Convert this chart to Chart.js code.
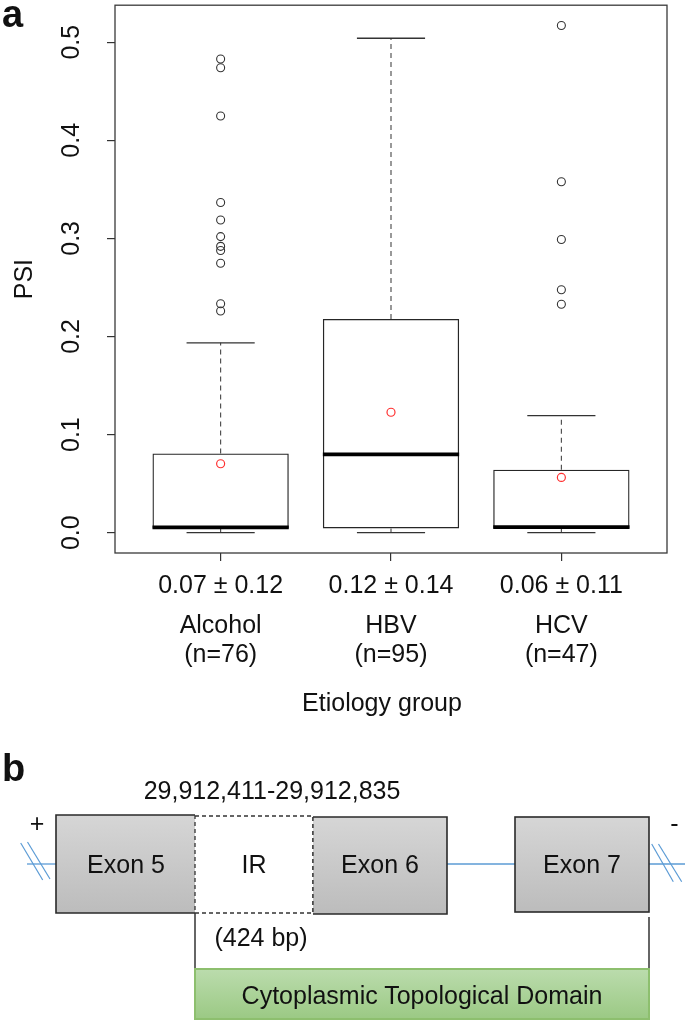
<!DOCTYPE html>
<html>
<head>
<meta charset="utf-8">
<script src="https://cdn.jsdelivr.net/npm/chart.js@4.4.1/dist/chart.umd.min.js"></script>
<style>
  html, body { margin: 0; padding: 0; background: #fff; overflow: hidden; }
  #wrap { position: absolute; left: 0; top: 0; width: 685px; height: 745px; }
  #panelB { position: absolute; left: 0; top: 0; pointer-events: none; }
</style>
</head>
<body>
<div id="wrap"><canvas id="c" width="685" height="745"></canvas></div>
<svg id="panelB" width="685" height="1022" font-family="'Liberation Sans', Arial, sans-serif" fill="#111">
  <defs>
    <linearGradient id="gGray" x1="0" y1="0" x2="0" y2="1">
      <stop offset="0" stop-color="#d6d6d6"/>
      <stop offset="1" stop-color="#bcbcbc"/>
    </linearGradient>
    <linearGradient id="gGreen" x1="0" y1="0" x2="0" y2="1">
      <stop offset="0" stop-color="#bbdcad"/>
      <stop offset="1" stop-color="#9bc984"/>
    </linearGradient>
  </defs>
  <text x="2" y="781" font-size="38" font-weight="bold">b</text>
  <text x="272" y="799" font-size="25" text-anchor="middle">29,912,411-29,912,835</text>
  <text x="37" y="832" font-size="25" text-anchor="middle">+</text>
  <text x="674.5" y="832" font-size="25" text-anchor="middle">-</text>

  <!-- intron lines -->
  <line x1="27" y1="864" x2="56" y2="864" stroke="#5b9bd5" stroke-width="1.3"/>
  <line x1="447" y1="864" x2="515" y2="864" stroke="#5b9bd5" stroke-width="1.3"/>
  <line x1="649" y1="864" x2="685" y2="864" stroke="#5b9bd5" stroke-width="1.3"/>
  <!-- break marks -->
  <line x1="20.7" y1="843" x2="42.7" y2="880" stroke="#5b9bd5" stroke-width="1.2"/>
  <line x1="27.5" y1="842" x2="50" y2="879" stroke="#5b9bd5" stroke-width="1.2"/>
  <line x1="651.7" y1="844" x2="673.3" y2="881.7" stroke="#5b9bd5" stroke-width="1.2"/>
  <line x1="658.5" y1="844" x2="681.7" y2="881.7" stroke="#5b9bd5" stroke-width="1.2"/>

  <!-- Exon 5 -->
  <rect x="56" y="815" width="139" height="98" fill="url(#gGray)"/>
  <polyline points="195,815 56,815 56,913 195,913" fill="none" stroke="#2a2a2a" stroke-width="1.6"/>
  <!-- IR -->
  <rect x="195" y="816" width="118" height="97" fill="#fff" stroke="#333" stroke-width="1.3" stroke-dasharray="4 3"/>
  <!-- Exon 6 -->
  <rect x="313" y="817" width="134" height="97" fill="url(#gGray)"/>
  <polyline points="313,817 447,817 447,914 313,914" fill="none" stroke="#2a2a2a" stroke-width="1.6"/>
  <line x1="313" y1="817" x2="313" y2="914" stroke="#333" stroke-width="1.3" stroke-dasharray="4 3"/>
  <!-- Exon 7 -->
  <rect x="515" y="817" width="134" height="95" fill="url(#gGray)" stroke="#2a2a2a" stroke-width="1.6"/>

  <text x="126" y="873" font-size="25" text-anchor="middle">Exon 5</text>
  <text x="254" y="873" font-size="25" text-anchor="middle">IR</text>
  <text x="380" y="873" font-size="25" text-anchor="middle">Exon 6</text>
  <text x="582" y="873" font-size="25" text-anchor="middle">Exon 7</text>

  <text x="261" y="946" font-size="25" text-anchor="middle">(424 bp)</text>

  <line x1="195" y1="913" x2="195" y2="969" stroke="#333" stroke-width="1.5"/>
  <line x1="649" y1="917" x2="649" y2="969" stroke="#333" stroke-width="1.5"/>

  <rect x="195" y="969" width="454" height="50" fill="url(#gGreen)" stroke="#8dbf6e" stroke-width="2"/>
  <text x="422" y="1004" font-size="25" text-anchor="middle">Cytoplasmic Topological Domain</text>
</svg>

<script>
// ---------------- data ----------------
const groups = ['Alcohol', 'HBV', 'HCV'];
const groupN = ['(n=76)', '(n=95)', '(n=47)'];
const meanSdLabels = ['0.07 \u00b1 0.12', '0.12 \u00b1 0.14', '0.06 \u00b1 0.11'];
const q1 = [0.0044, 0.0044, 0.0044];
const median = [0.0054, 0.0798, 0.0057];
const q3 = [0.0808, 0.2179, 0.0642];
const whiskerLow = [0.0, 0.0, 0.0];
const whiskerHigh = [0.1935, 0.504, 0.1194];
const means = [0.0703, 0.1228, 0.0564];
const outliersAlcohol = [0.4828, 0.474, 0.4247, 0.3366, 0.3187, 0.3018, 0.2919, 0.2876, 0.2747, 0.2334, 0.226];
const outliersHBV = [];
const outliersHCV = [0.517, 0.3577, 0.2988, 0.2476, 0.2328];
const yTicks = [0, 0.1, 0.2, 0.3, 0.4, 0.5];
const xAxisTitle = 'Etiology group';
const yAxisTitle = 'PSI';

// ---------------- derived tables ----------------
const BOX_HALF = 0.4;   // half box width in category units (R default 0.8 width)
const CAP_HALF = 0.2;   // half staple width
const outlierSets = [outliersAlcohol, outliersHBV, outliersHCV];

function segments(list) {
  const pts = [];
  list.forEach(s => { pts.push({x: s[0], y: s[1]}, {x: s[2], y: s[3]}, {x: s[2], y: null}); });
  return pts;
}
const medianSegs = segments(groups.map((g, i) => [i + 1 - BOX_HALF, median[i], i + 1 + BOX_HALF, median[i]]));
const whiskerSegs = segments(groups.flatMap((g, i) => [
  [i + 1, q3[i], i + 1, whiskerHigh[i]],
  [i + 1, q1[i], i + 1, whiskerLow[i]]
]));
const capSegs = segments(groups.flatMap((g, i) => [
  [i + 1 - CAP_HALF, whiskerHigh[i], i + 1 + CAP_HALF, whiskerHigh[i]],
  [i + 1 - CAP_HALF, whiskerLow[i], i + 1 + CAP_HALF, whiskerLow[i]]
]));
const outlierPts = outlierSets.flatMap((arr, i) => arr.map(v => ({x: i + 1, y: v})));
const meanPts = means.map((v, i) => ({x: i + 1, y: v}));

// R-style axis range (4% extension)
const dataMax = Math.max(...whiskerHigh, ...outlierPts.map(p => p.y));
const dataMin = Math.min(...whiskerLow);
const ext = (dataMax - dataMin) * 0.04;
const FONT = "'Liberation Sans', Arial, sans-serif";

const textPlugin = {
  id: 'rtext',
  afterDraw(chart) {
    const ctx = chart.ctx;
    const a = chart.chartArea;
    const xs = chart.scales.x, ys = chart.scales.y;
    ctx.save();
    // frame
    ctx.strokeStyle = '#3a3a3a';
    ctx.lineWidth = 1.3;
    ctx.strokeRect(a.left, a.top, a.right - a.left, a.bottom - a.top);
    ctx.fillStyle = '#111';
    // y tick labels (rotated, parallel to axis)
    ctx.font = '25px ' + FONT;
    ctx.textAlign = 'center';
    ctx.textBaseline = 'alphabetic';
    ys.ticks.forEach(t => {
      const y = ys.getPixelForValue(t.value);
      ctx.save();
      ctx.translate(a.left - 36, y);
      ctx.rotate(-Math.PI / 2);
      ctx.fillText(t.value.toFixed(1), 0, 0);
      ctx.restore();
    });
    // y title
    ctx.save();
    ctx.translate(a.left - 83, (a.top + a.bottom) / 2);
    ctx.rotate(-Math.PI / 2);
    ctx.fillText(yAxisTitle, 0, 0);
    ctx.restore();
    // x labels
    groups.forEach((g, i) => {
      const x = xs.getPixelForValue(i + 1);
      ctx.fillText(meanSdLabels[i], x, a.bottom + 40);
      ctx.fillText(g, x, a.bottom + 80);
      ctx.fillText(groupN[i], x, a.bottom + 109);
    });
    ctx.fillText(xAxisTitle, (a.left + a.right) / 2 - 9, a.bottom + 158);
    // panel letter
    ctx.font = 'bold 38px ' + FONT;
    ctx.textAlign = 'left';
    ctx.fillText('a', 2, 27);
    ctx.restore();
  }
};

const axisGrid = {drawOnChartArea: false, drawTicks: true, tickLength: 8, color: '#333', lineWidth: 1.2, offset: false};

new Chart(document.getElementById('c'), {
  type: 'bar',
  data: {
    datasets: [
      {
        type: 'scatter', label: 'Mean', data: meanPts, order: 0,
        pointRadius: 4, pointBorderWidth: 1.2, pointBackgroundColor: 'rgba(0,0,0,0)', pointBorderColor: '#ff3030'
      },
      {
        type: 'scatter', label: 'Outliers', data: outlierPts, order: 1,
        pointRadius: 4, pointBorderWidth: 1.1, pointBackgroundColor: 'rgba(0,0,0,0)', pointBorderColor: '#333'
      },
      {
        type: 'line', label: 'Median', data: medianSegs, order: 2,
        borderColor: '#000', borderWidth: 3.6, pointRadius: 0, spanGaps: false, tension: 0
      },
      {
        type: 'line', label: 'Whiskers', data: whiskerSegs, order: 4,
        borderColor: '#444', borderWidth: 1.1, borderDash: [5, 4], pointRadius: 0, spanGaps: false, tension: 0
      },
      {
        type: 'line', label: 'Caps', data: capSegs, order: 3,
        borderColor: '#333', borderWidth: 1.3, pointRadius: 0, spanGaps: false, tension: 0
      },
      {
        type: 'bar', label: 'IQR', order: 5,
        data: groups.map((g, i) => ({x: i + 1, y: [q1[i], q3[i]]})),
        backgroundColor: 'rgba(255,255,255,0)', borderColor: '#262626', borderWidth: 1.3,
        borderSkipped: false, categoryPercentage: 1, barPercentage: 2 * BOX_HALF
      }
    ]
  },
  options: {
    responsive: false,
    animation: false,
    devicePixelRatio: 1,
    layout: {padding: {left: 0, top: 3, right: 18, bottom: 0}},
    plugins: {legend: {display: false}, tooltip: {enabled: false}},
    scales: {
      x: {
        type: 'linear', min: 0.5 - 3 * 0.04, max: 3.5 + 3 * 0.04, offset: false,
        afterBuildTicks: s => { s.ticks = groups.map((g, i) => ({value: i + 1})); },
        ticks: {display: false},
        grid: axisGrid,
        border: {display: false},
        afterFit: s => { s.height = 192; }
      },
      y: {
        type: 'linear', min: dataMin - ext, max: dataMax + ext,
        afterBuildTicks: s => { s.ticks = yTicks.map(v => ({value: v})); },
        ticks: {display: false},
        grid: axisGrid,
        border: {display: false},
        afterFit: s => { s.width = 115; }
      }
    }
  },
  plugins: [textPlugin]
});
</script>
</body>
</html>
